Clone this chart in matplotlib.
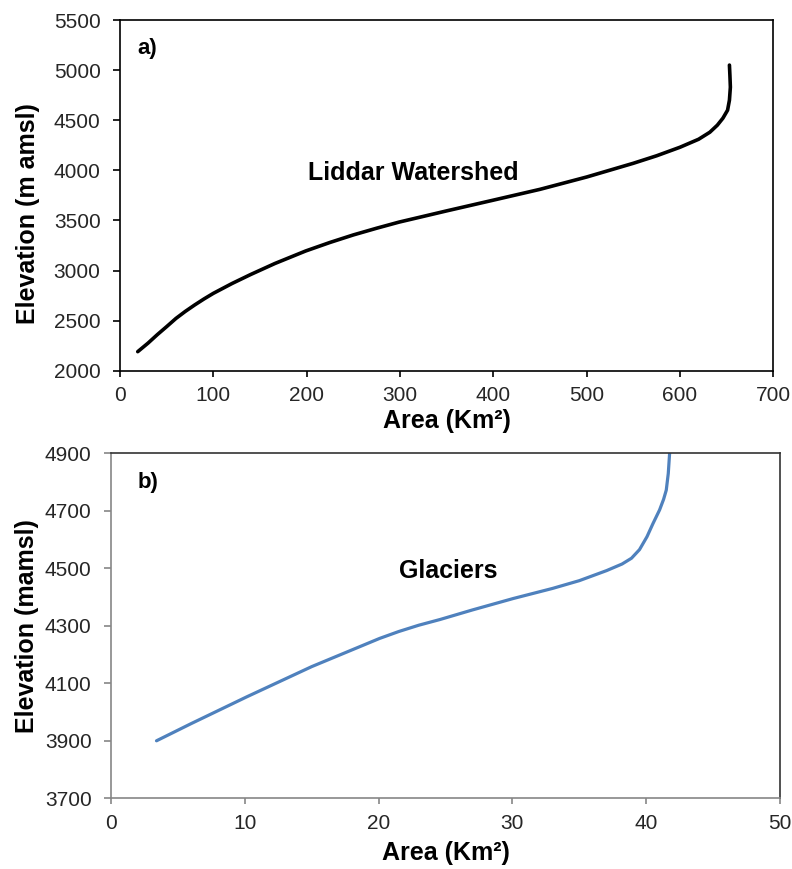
import matplotlib
matplotlib.use("Agg")
import matplotlib.pyplot as plt
from matplotlib.ticker import MultipleLocator, FixedLocator

# Panel a) Liddar Watershed hypsometric curve
liddar_area = [19, 30, 40, 50, 60, 70, 80, 90, 100, 120, 140, 166, 199, 225, 250,
               275, 299, 325, 350, 399, 450, 500, 550, 575, 600, 620, 632, 640,
               646, 651, 653, 654, 653.5, 653]
liddar_elev = [2190, 2275, 2360, 2440, 2522, 2592, 2656, 2716, 2772, 2870, 2960,
               3070, 3195, 3280, 3355, 3422, 3483, 3540, 3595, 3700, 3810, 3933,
               4070, 4145, 4230, 4310, 4380, 4450, 4520, 4600, 4700, 4830, 4950,
               5050]

# Panel b) Glaciers hypsometric curve
glac_area = [3.4, 6, 10.15, 15, 20.07, 21.5, 23, 24.6, 27, 30.07, 33, 35, 37.04,
             38.2, 38.9, 39.5, 40.06, 40.5, 41.0, 41.3, 41.5, 41.65, 41.75]
glac_elev = [3900, 3960, 4053, 4158, 4256, 4280, 4302, 4322, 4355, 4395, 4430,
             4457, 4492, 4515, 4535, 4565, 4610, 4655, 4703, 4740, 4772, 4830, 4900]

font = ['Liberation Sans', 'DejaVu Sans']
plt.rcParams['font.family'] = font

W, H = 792, 869
fig = plt.figure(figsize=(W / 100, H / 100), dpi=100)

def add_axes(l, r, t, b):
    return fig.add_axes([l / W, 1 - b / H, (r - l) / W, (b - t) / H])

ax1 = add_axes(120, 773.3, 20, 370.7)
ax2 = add_axes(111, 780, 453.3, 798.3)

tick_col = '#262626'

# ---- panel a ----
ax1.plot(liddar_area, liddar_elev, color='black', lw=2.6, solid_capstyle='round',
         solid_joinstyle='round')
ax1.set_xlim(0, 700)
ax1.set_ylim(2000, 5500)
ax1.xaxis.set_major_locator(MultipleLocator(100))
ax1.yaxis.set_major_locator(MultipleLocator(500))
ax1.text(18.2, 5220, 'a)', fontsize=16, fontweight='bold', va='center', ha='left')
ax1.text(314.5, 3970, 'Liddar Watershed', fontsize=18, fontweight='bold',
         ha='center', va='center')
ax1.set_xlabel('Area (Km²)', fontsize=18, fontweight='bold')
ax1.set_ylabel('Elevation (m amsl)', fontsize=18, fontweight='bold')
ax1.xaxis.label.set_va('center')
ax1.yaxis.label.set_va('center')
ax1.xaxis.set_label_coords(0.5, (370.7 - 421.3) / 350.7)
ax1.yaxis.set_label_coords((28.4 - 120) / 653.3, (370.7 - 214) / 350.7)
for sp in ax1.spines.values():
    sp.set_color('black')
    sp.set_linewidth(1.2)
ax1.tick_params(axis='x', direction='out', length=4, width=1.2, pad=7,
                labelsize=15, labelcolor=tick_col, colors='black')
ax1.tick_params(axis='y', direction='out', length=5, width=1.2, pad=9,
                labelsize=15, labelcolor=tick_col, colors='black')

# ---- panel b ----
ax2.plot(glac_area, glac_elev, color='#4F81BD', lw=2.3, solid_capstyle='round',
         solid_joinstyle='round')
ax2.set_xlim(0, 50)
ax2.set_ylim(3700, 4900)
ax2.xaxis.set_major_locator(MultipleLocator(10))
ax2.yaxis.set_major_locator(FixedLocator([3700, 3900, 4100, 4300, 4500, 4700, 4900]))
ax2.text(2.0, 4800, 'b)', fontsize=16, fontweight='bold', va='center', ha='left')
ax2.text(25.2, 4490, 'Glaciers', fontsize=18, fontweight='bold',
         ha='center', va='center')
ax2.set_xlabel('Area (Km²)', fontsize=18, fontweight='bold')
ax2.set_ylabel('Elevation (mamsl)', fontsize=18, fontweight='bold')
ax2.xaxis.label.set_va('center')
ax2.yaxis.label.set_va('center')
ax2.xaxis.set_label_coords(0.5, (798.3 - 853.3) / 345.0)
ax2.yaxis.set_label_coords((27.5 - 111) / 669, 0.5)
grey = '#868686'
ax2.spines['left'].set_color(grey)
ax2.spines['bottom'].set_color(grey)
ax2.spines['top'].set_color('#333333')
ax2.spines['right'].set_color('#333333')
for sp in ax2.spines.values():
    sp.set_linewidth(1.2)
ax2.tick_params(axis='x', direction='out', length=4, width=1.2, pad=7,
                labelsize=15, labelcolor=tick_col, colors=grey)
ax2.tick_params(axis='y', direction='out', length=5, width=1.2, pad=9,
                labelsize=15, labelcolor=tick_col, colors=grey)

fig.savefig('out.png', dpi=100)
